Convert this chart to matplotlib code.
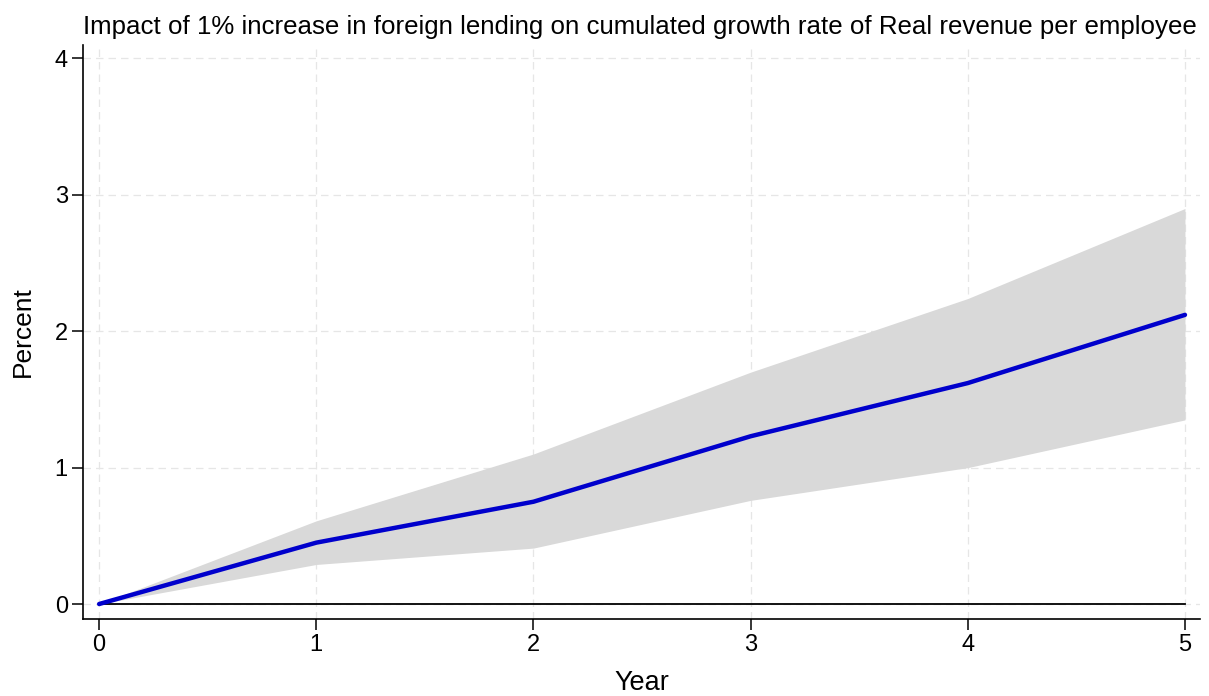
import matplotlib.pyplot as plt

plt.rcParams['font.family'] = ['Liberation Sans', 'DejaVu Sans']

years = [0, 1, 2, 3, 4, 5]
estimate = [0.0, 0.45, 0.75, 1.23, 1.62, 2.12]
upper = [0.0, 0.61, 1.10, 1.70, 2.24, 2.90]
lower = [0.0, 0.29, 0.41, 0.76, 1.00, 1.35]

fig = plt.figure(figsize=(12.09, 6.96), dpi=100)
ax = fig.add_axes([0.0687, 0.1106, 0.924, 0.825])

ax.fill_between(years, lower, upper, color='#d9d9d9', linewidth=0, zorder=2)
ax.plot([years[0], years[-1]], [0, 0], color='black', linewidth=1.3, zorder=3)
ax.plot(years, estimate, color='#0000cc', linewidth=3.2, solid_capstyle='round', zorder=4)

ax.set_xlim(-0.074, 5.07)
ax.set_ylim(-0.11, 4.1)
ax.set_xticks(years)
ax.set_yticks([0, 1, 2, 3, 4])
ax.grid(True, color='#e6e6e6', linestyle=(0, (6, 4)), linewidth=0.9, zorder=1)

for side in ['top', 'right']:
    ax.spines[side].set_visible(False)
for side in ['left', 'bottom']:
    ax.spines[side].set_linewidth(1.2)
ax.tick_params(labelsize=17, length=8, width=1.1, pad=3)

ax.set_xlabel('Year', fontsize=19.5, labelpad=10)
ax.set_ylabel('Percent', fontsize=19, labelpad=14)
ax.set_title('Impact of 1% increase in foreign lending on cumulated growth rate of Real revenue per employee',
             fontsize=18.6, loc='left', x=0.0, pad=8)

fig.savefig('out.png', dpi=100)
